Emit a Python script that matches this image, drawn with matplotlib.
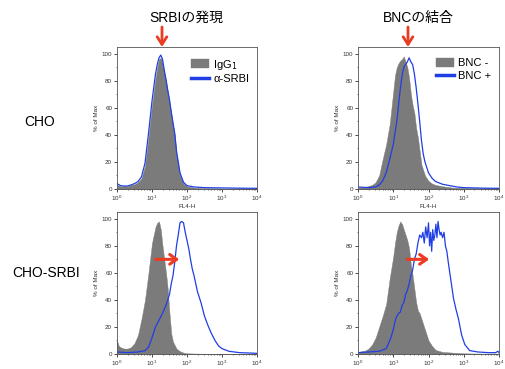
import numpy as np
import matplotlib
matplotlib.use("Agg")
import matplotlib.pyplot as plt
from matplotlib.ticker import LogLocator, MultipleLocator, NullFormatter

plt.rcParams['font.family'] = ['Liberation Sans', 'Noto Sans CJK JP', 'DejaVu Sans']

# ---- data (x in log10 FL4-H, y in % of Max) ----
col_titles = ["SRBIの発現", "BNCの結合"]
row_labels = ["CHO", "CHO-SRBI"]
legend_left = ["IgG$_1$", "α-SRBI"]
legend_right = ["BNC -", "BNC +"]

cho_igg_x = [0.0,0.1,0.2,0.3,0.4,0.5,0.6,0.7,0.8,0.9,1.0,1.05,1.1,1.15,1.2,1.25,1.3,1.35,1.4,1.45,1.5,1.55,1.6,1.65,1.7,1.8,1.9,2.0,2.2,2.5,3.0,3.5,4.0]
cho_igg_y = [3,2,2,2,3,3.5,5,8,17,38,62,72,82,90,96,97,93,86,80,72,64,56,47,40,26,10,4,2,1,0.6,0.4,0.3,0.2]
cho_srbi_x = cho_igg_x
cho_srbi_y = [4,2.5,2.2,2.2,3,4,5.5,9,19,41,65,75,85,92,97,99,96,88,81,73,66,57,49,41,28,12,5,2.5,1.5,1,0.8,0.6,0.5]

cho_bncm_x = [0.0,0.2,0.4,0.5,0.6,0.7,0.8,0.9,1.0,1.05,1.1,1.15,1.2,1.25,1.3,1.35,1.4,1.45,1.5,1.55,1.6,1.65,1.7,1.75,1.8,1.9,2.0,2.1,2.2,2.4,2.7,3.0,3.5,4.0]
cho_bncm_y = [1,1.5,3,5,10,22,33,48,72,84,90,93,95,96,98,94,90,82,70,62,56,45,38,28,18,10,6,4,3,2,1,0.8,0.5,0.5]
cho_bncp_x = [0.0,0.3,0.5,0.6,0.7,0.8,0.9,1.0,1.1,1.15,1.2,1.25,1.3,1.35,1.4,1.45,1.5,1.55,1.6,1.65,1.7,1.75,1.8,1.85,1.9,2.0,2.1,2.2,2.4,2.6,2.8,3.0,3.3,3.6,4.0]
cho_bncp_y = [1.5,1,1.5,3,6,12,22,33,50,62,74,84,90,92,94,97,94,92,85,75,63,50,36,26,20,12,8,5.5,3.5,2.5,1.5,1,0.8,0.6,0.5]

srbi_igg_x = [0.0,0.05,0.1,0.2,0.3,0.4,0.5,0.6,0.7,0.8,0.9,1.0,1.05,1.1,1.15,1.2,1.25,1.3,1.35,1.4,1.45,1.5,1.55,1.6,1.7,1.8,1.9,2.0,2.3,2.7,3.0,3.5,4.0]
srbi_igg_y = [10,6,5,4,4,5,8,14,26,40,60,82,88,94,97,98,92,80,70,60,48,30,15,9,4,2,1,0.5,0.3,0.2,0.2,0.1,0.1]
srbi_srbi_x = [0.0,0.3,0.6,0.8,0.9,1.0,1.1,1.2,1.3,1.4,1.5,1.55,1.6,1.65,1.7,1.75,1.8,1.85,1.9,1.95,2.0,2.05,2.1,2.15,2.2,2.25,2.3,2.4,2.5,2.6,2.7,2.8,2.9,3.0,3.2,3.5,4.0]
srbi_srbi_y = [1.5,1,1.5,2.5,5,12,20,25,30,36,44,52,58,68,80,88,97,98,97,90,84,78,70,63,58,52,46,38,28,21,15,10,6,4,2,1,0.5]

srbi_bncm_x = [0.0,0.2,0.3,0.4,0.5,0.6,0.7,0.8,0.9,1.0,1.05,1.1,1.15,1.2,1.25,1.3,1.35,1.4,1.45,1.5,1.55,1.6,1.65,1.7,1.75,1.8,1.9,2.0,2.1,2.2,2.4,2.7,3.0,3.5,4.0]
srbi_bncm_y = [1.5,2.5,4,7,12,20,28,37,56,72,82,90,95,98,96,92,88,84,78,66,58,48,38,32,30,26,18,10,6,3,1.5,1,0.5,0.3,0.3]
srbi_bncp_x = [0.0,0.3,0.6,0.8,0.92,1.0,1.06,1.1,1.15,1.2,1.25,1.3,1.35,1.4,1.45,1.5,1.55,1.6,1.65,1.7,1.75,1.8,1.84,1.88,1.92,1.96,2.0,2.03,2.06,2.09,2.12,2.15,2.18,2.21,2.24,2.27,2.3,2.33,2.36,2.4,2.44,2.48,2.52,2.56,2.61,2.66,2.71,2.78,2.85,2.94,3.03,3.17,3.4,3.7,3.9,3.97,4.0]
srbi_bncp_y = [1,1.5,2,4,11,18,25,28,30,31,36,38,44,47,52,58,62,70,74,82,88,86,90,82,94,86,97,80,90,76,92,84,88,96,86,98,92,88,90,86,90,80,76,68,59,50,41,33,26,14,7,2.5,1.5,1,1,2,1]

yticks = [0, 20, 40, 60, 80, 100]

GRAY = '#7b7b7b'
BLUE = '#1f3ee6'
RED = '#ec3b23'

fig = plt.figure(figsize=(5.05, 3.69), dpi=100)
W, H = 505, 369

def add_ax(x0, y0, x1, y1):
    return fig.add_axes([x0 / W, 1 - y1 / H, (x1 - x0) / W, (y1 - y0) / H])

axes = [[add_ax(117, 47, 257, 189), add_ax(358, 47, 499, 189)],
        [add_ax(117, 212, 257, 354), add_ax(358, 212, 499, 354)]]

panels = [[(cho_igg_x, cho_igg_y, cho_srbi_x, cho_srbi_y),
           (cho_bncm_x, cho_bncm_y, cho_bncp_x, cho_bncp_y)],
          [(srbi_igg_x, srbi_igg_y, srbi_srbi_x, srbi_srbi_y),
           (srbi_bncm_x, srbi_bncm_y, srbi_bncp_x, srbi_bncp_y)]]

for r in range(2):
    for c in range(2):
        ax = axes[r][c]
        gx, gy, bx, by = panels[r][c]
        gx = np.power(10.0, np.array(gx))
        bx = np.power(10.0, np.array(bx))
        labels = legend_left if c == 0 else legend_right
        ax.fill_between(gx, 0, gy, facecolor=GRAY, edgecolor=GRAY, lw=0.3, label=labels[0])
        ax.plot(bx, by, color=BLUE, lw=0.9, label=labels[1])
        ax.set_xscale('log')
        ax.set_xlim(1, 1e4)
        ax.set_ylim(0, 105)
        ax.set_yticks(yticks)
        ax.xaxis.set_minor_locator(LogLocator(base=10, subs=np.arange(2, 10)))
        ax.xaxis.set_minor_formatter(NullFormatter())
        ax.yaxis.set_minor_locator(MultipleLocator(10))
        ax.tick_params(which='major', labelsize=4.5, length=2, width=0.5, pad=1.5, labelcolor='#333333')
        ax.tick_params(which='minor', length=1, width=0.4)
        ax.set_ylabel('% of Max', fontsize=4.5, labelpad=2, color='#333333')
        if r == 0:
            ax.set_xlabel('FL4-H', fontsize=4.5, labelpad=0.5, color='#333333')
        for s in ax.spines.values():
            s.set_linewidth(0.6)
            s.set_color('#555555')
        if r == 0:
            leg = ax.legend(loc='upper right', bbox_to_anchor=(1.0, 0.98), frameon=False,
                            fontsize=8, handlelength=1.6, handleheight=0.9,
                            handletextpad=0.4, labelspacing=0.2, borderaxespad=0.3)
            for ln in leg.get_lines():
                ln.set_linewidth(2.5)

# Column titles
fig.text(186 / W, 1 - 18 / H, col_titles[0], ha='center', va='center', fontsize=10)
fig.text(418 / W, 1 - 18 / H, col_titles[1], ha='center', va='center', fontsize=10)
# Row labels
fig.text(40 / W, 1 - 122 / H, row_labels[0], ha='center', va='center', fontsize=10)
fig.text(46 / W, 1 - 273 / H, row_labels[1], ha='center', va='center', fontsize=10)

# Red down arrows above top panels
for xp in (162, 408):
    axes[0][0].annotate('', xy=(xp / W, 1 - 47 / H), xytext=(xp / W, 1 - 27 / H),
                        xycoords='figure fraction', textcoords='figure fraction',
                        arrowprops=dict(arrowstyle='->,head_length=0.55,head_width=0.35',
                                        color=RED, lw=2, shrinkA=0, shrinkB=0),
                        annotation_clip=False)

# Red horizontal arrows in bottom panels
axes[1][0].annotate('', xy=(10 ** 1.78, 70), xytext=(10 ** 1.10, 70),
                    arrowprops=dict(arrowstyle='->,head_length=0.5,head_width=0.35',
                                    color=RED, lw=2.2, shrinkA=0, shrinkB=0))
axes[1][1].annotate('', xy=(10 ** 2.02, 70), xytext=(10 ** 1.39, 70),
                    arrowprops=dict(arrowstyle='->,head_length=0.5,head_width=0.35',
                                    color=RED, lw=2.2, shrinkA=0, shrinkB=0))

fig.savefig('out.png', dpi=100)
